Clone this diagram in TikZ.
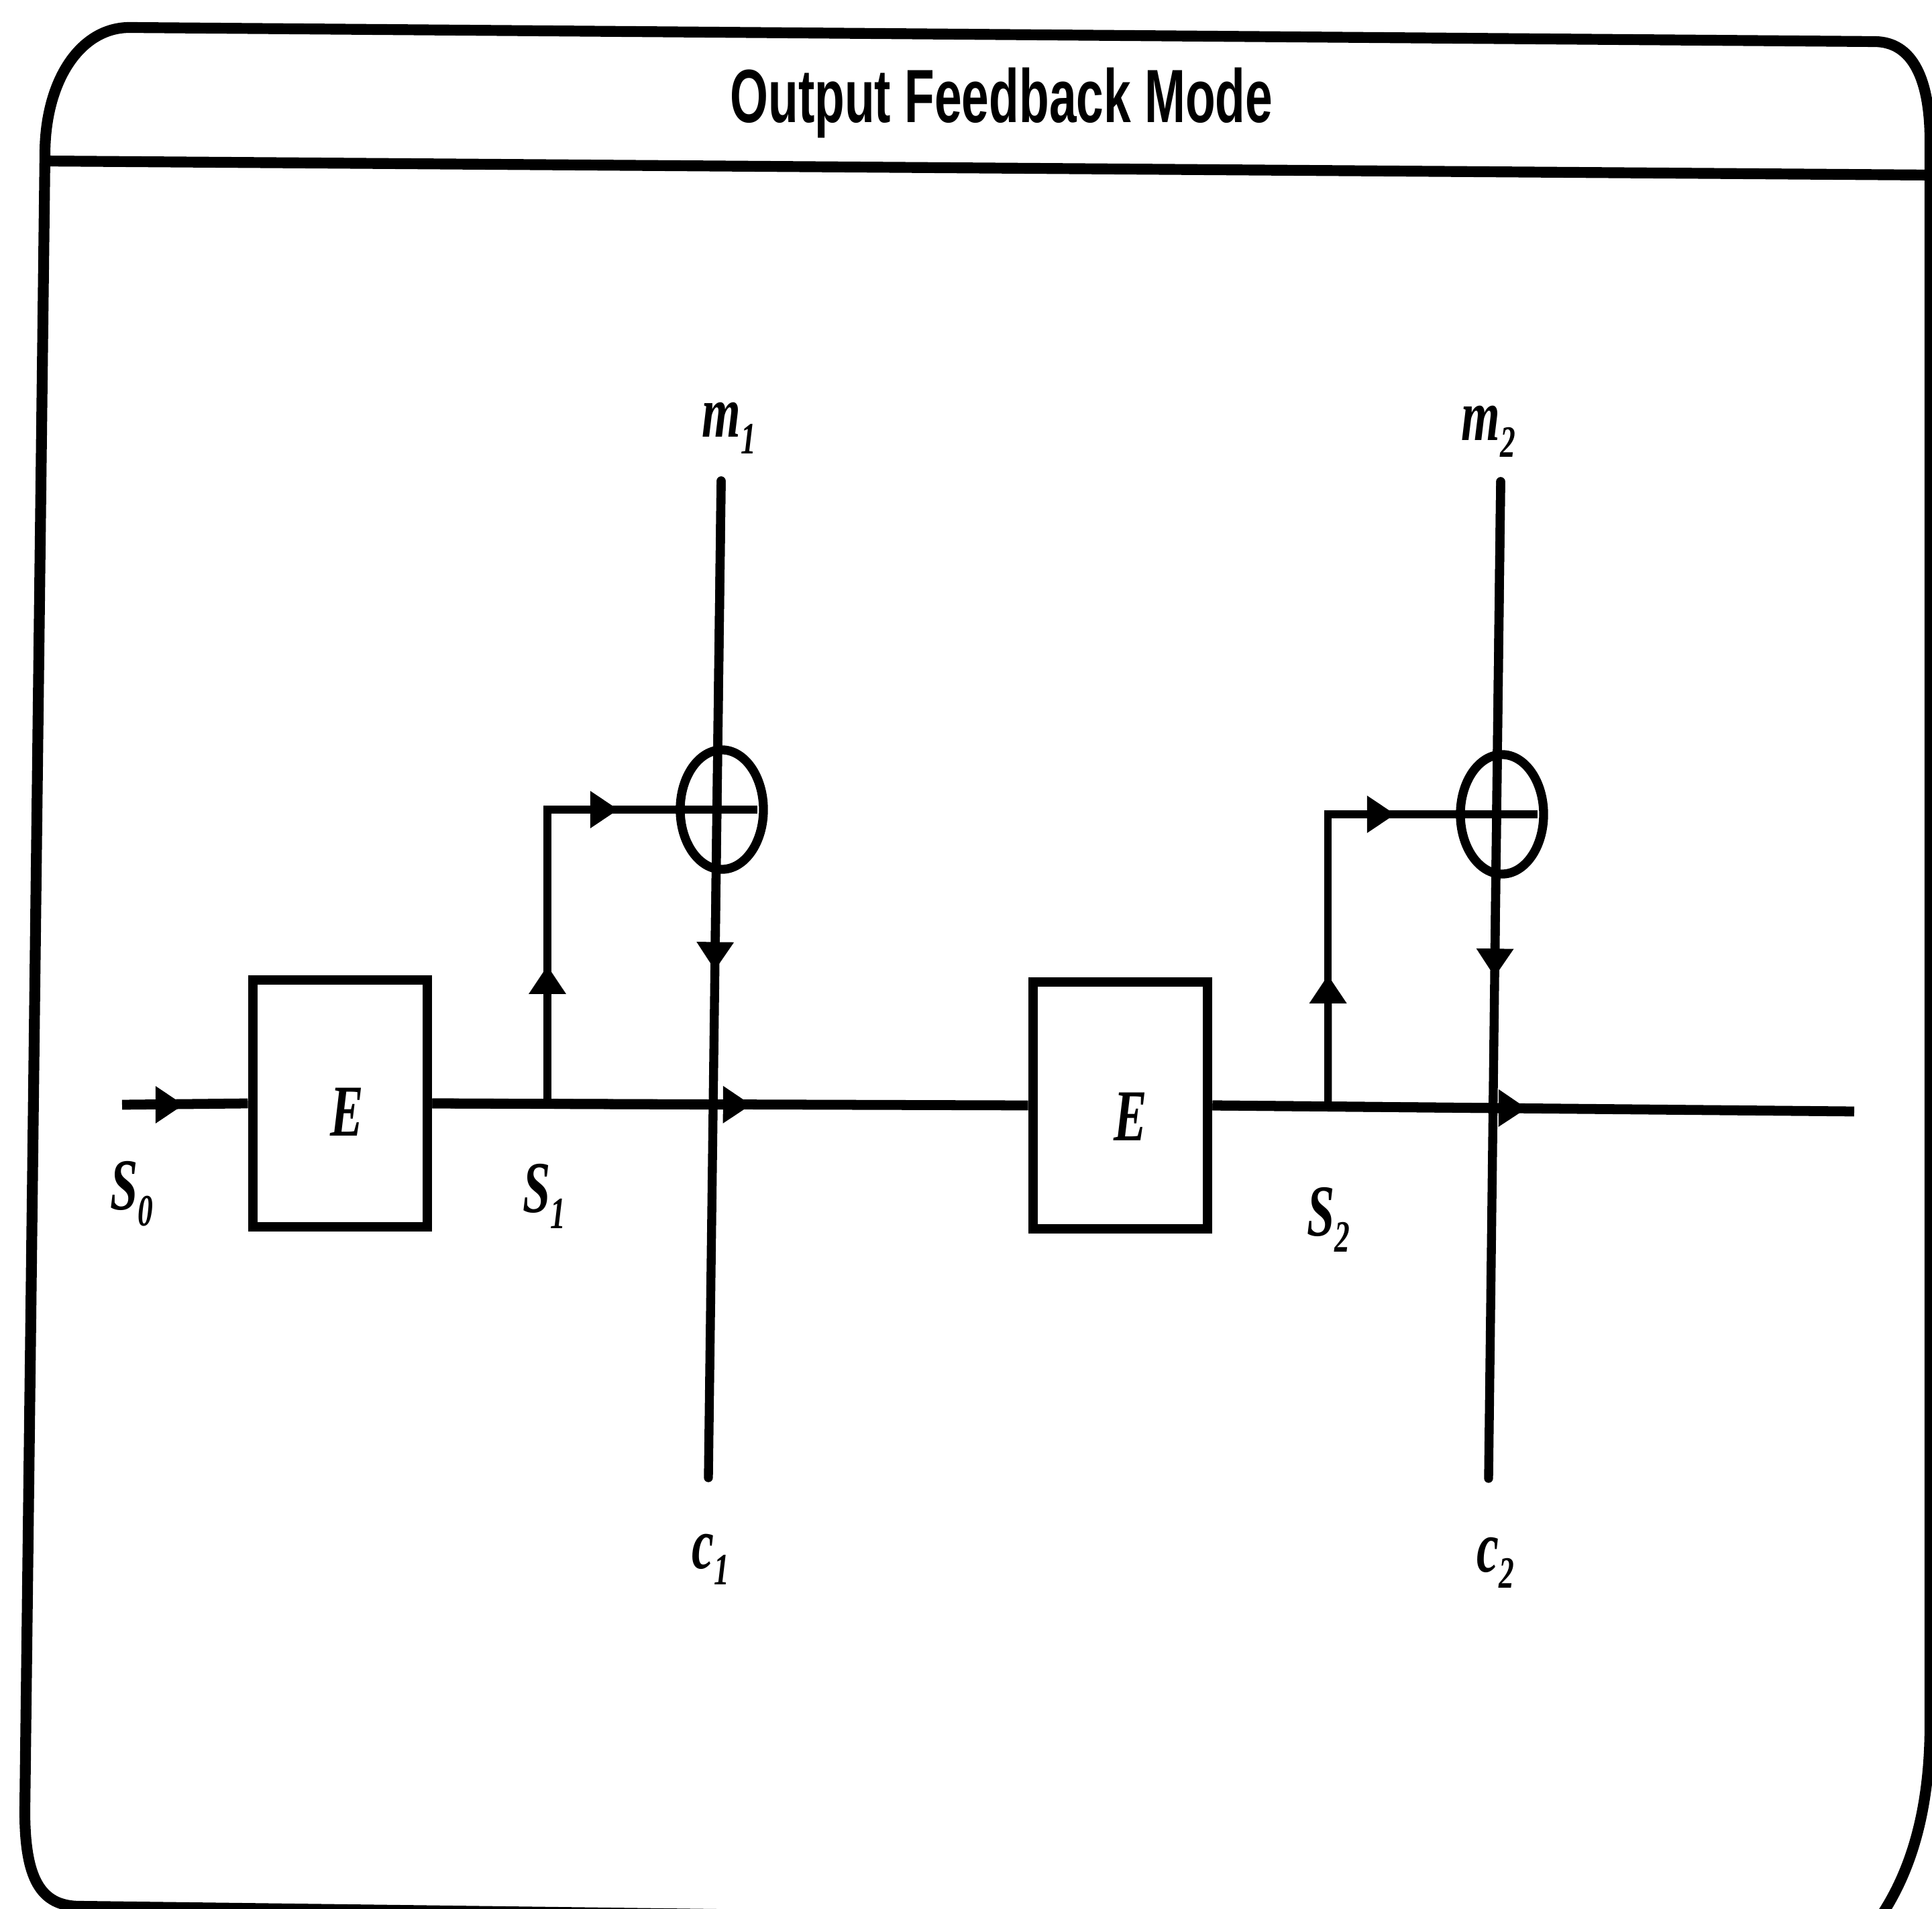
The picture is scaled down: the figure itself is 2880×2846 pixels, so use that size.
\documentclass[tikz,border=0pt]{standalone}
\usepackage{fontspec}
\setmainfont{Liberation Serif}
\newfontfamily\titlefont{Liberation Sans}
\usepackage{graphicx}
\usetikzlibrary{arrows.meta,shapes.geometric,calc}
\newcommand{\lbl}[2]{\scalebox{0.68}[1]{\fontsize{31}{36}\selectfont\bfseries\itshape #1\raisebox{-7pt}{\fontsize{19}{20}\selectfont\bfseries #2}}}
\begin{document}
\begin{tikzpicture}[x=0.01cm,y=-0.01cm,
  frame/.style={line width=4.6pt, line join=round},
  ebox/.style={draw, line width=4.2pt, minimum width=2.6cm, minimum height=3.68cm, inner sep=0pt},
  xorc/.style={ellipse, draw, line width=3.8pt, minimum width=1.24cm, minimum height=1.78cm, inner sep=0pt},
  wire/.style={line width=4.2pt},
  thinwire/.style={line width=3.2pt},
  mline/.style={line width=3.8pt, line cap=round},
  arr/.style={-{Triangle[length=12pt,width=15pt]}},
  lab/.style={inner sep=0pt, anchor=base west}]
\useasboundingbox (0,0) rectangle (2880,2846);
\clip (0,0) rectangle (2880,2846);
\fill[white] (0,0) rectangle (2880,2846);
% frame
\draw[frame] (2790,2876) .. controls (2848,2800) and (2877,2700) .. (2877,2571)
  -- (2877,210) .. controls (2877,120) and (2852,62) .. (2794,62)
  -- (193,41) .. controls (120,41) and (67,120) .. (67,230)
  -- (37,2700) .. controls (37,2800) and (60,2842) .. (119,2842) -- cycle;
\draw[frame] (64,240) -- (2877,261);
\node[inner sep=0pt, anchor=base] (title) at (1493,183)
  {\scalebox{0.65}[1]{\titlefont\bfseries\fontsize{32}{38}\selectfont Output Feedback Mode}};
% blocks
\node[ebox] (e1) at (507,1645) {};
\node[ebox] (e2) at (1670,1648) {};
\node[lab] (e1t) at (492,1693) {\lbl{E}{}};
\node[lab] (e2t) at (1660,1700) {\lbl{E}{}};
\node[xorc] (x1) at (1076,1207) {};
\node[xorc] (x2) at (2239,1214) {};
% coordinates
\coordinate (in0) at (182,1647);
\coordinate (a0) at (274,1647);
\coordinate (j1) at (816,1646);
\coordinate (a1) at (1120,1647);
\coordinate (out) at (2764,1657);
\coordinate (j2) at ($(e2.east)!0.18!(out)$);
\coordinate (a2) at ($(e2.east)!0.49!(out)$);
\coordinate (k1) at (j1 |- x1.center);
\coordinate (b1) at ($(j1)!0.47!(k1)$);
\coordinate (f1) at (922,1207);
\coordinate (k2) at (j2 |- x2.center);
\coordinate (b2) at ($(j2)!0.45!(k2)$);
\coordinate (f2) at (2080,1214);
\coordinate (m1t) at (1075,717);
\coordinate (c1b) at (1056,2203);
\coordinate (d1) at ($(m1t)!0.491!(c1b)$);
\coordinate (m2t) at (2237,718);
\coordinate (c2b) at (2219,2204);
\coordinate (d2) at ($(m2t)!0.497!(c2b)$);
% main line
\draw[wire] (in0) -- (e1.west);
\draw[wire,arr] (in0) -- (a0);
\draw[wire] (e1.east) -- (e2.west);
\draw[wire,arr] (e1.east) -- (a1);
\draw[wire] (e2.east) -- (out);
\draw[wire,arr] (e2.east) -- (a2);
% feedback branches
\draw[thinwire, line join=miter] (j1) -- (k1) -- ([xshift=-0.16cm]x1.east);
\draw[thinwire,arr] (j1) -- (b1);
\draw[thinwire,arr] (k1) -- (f1);
\draw[thinwire, line join=miter] (j2) -- (k2) -- ([xshift=-0.16cm]x2.east);
\draw[thinwire,arr] (j2) -- (b2);
\draw[thinwire,arr] (k2) -- (f2);
% message / cipher lines
\draw[mline] (m1t) -- (c1b);
\draw[mline,arr] (m1t) -- (d1);
\draw[mline] (m2t) -- (c2b);
\draw[mline,arr] (m2t) -- (d2);
% labels
\node[lab] (m1) at (1046,652) {\lbl{m}{1}};
\node[lab] (m2) at (2178,657) {\lbl{m}{2}};
\node[lab] (c1) at (1031,2338) {\lbl{c}{1}};
\node[lab] (c2) at (2201,2343) {\lbl{c}{2}};
\node[lab] (s0) at (164,1803) {\lbl{S}{0}};
\node[lab] (s1) at (779,1807) {\lbl{S}{1}};
\node[lab] (s2) at (1948,1842) {\lbl{S}{2}};
\end{tikzpicture}
\end{document}
